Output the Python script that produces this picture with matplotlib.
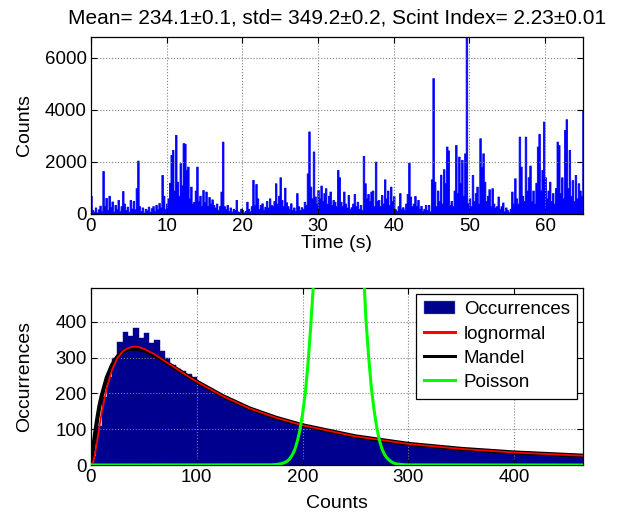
import numpy as np
import matplotlib
matplotlib.use('Agg')
from matplotlib import pyplot as plt

plt.rcParams['font.family'] = ['Liberation Sans', 'DejaVu Sans']

title_txt = u'Mean= 234.1\u00b10.1, std= 349.2\u00b10.2, Scint Index= 2.23\u00b10.01'

# time series, one value every 0.2 s
dt = 0.2
counts = [
    700, 150, 90, 250, 60, 180, 320, 100, 1650, 300,
    620, 150, 700, 260, 480, 90, 350, 200, 540, 120,
    300, 880, 400, 150, 280, 90, 540, 210, 500, 180,
    990, 2050, 300, 120, 250, 60, 200, 140, 280, 90,
    220, 300, 120, 350, 180, 420, 250, 1500, 700, 200,
    400, 600, 1200, 2270, 2460, 900, 3040, 1240, 700, 1950,
    1100, 2720, 2700, 1690, 1820, 600, 1050, 400, 470, 900,
    1820, 500, 700, 300, 920, 450, 860, 300, 650, 400,
    560, 350, 250, 400, 150, 300, 860, 2780, 300, 200,
    350, 120, 250, 90, 200, 150, 540, 100, 80, 200,
    150, 60, 120, 470, 200, 100, 300, 1310, 350, 1150,
    600, 200, 350, 410, 150, 280, 500, 250, 600, 350,
    300, 500, 1180, 400, 700, 1410, 540, 300, 1010, 450,
    300, 200, 410, 150, 250, 120, 800, 300, 150, 260,
    200, 470, 350, 1560, 3170, 1050, 600, 2400, 670, 400,
    920, 600, 1090, 500, 800, 990, 400, 700, 860, 350,
    540, 470, 300, 1690, 1410, 470, 300, 860, 400, 250,
    730, 200, 260, 400, 770, 300, 470, 200, 350, 150,
    2230, 1180, 600, 770, 500, 860, 900, 300, 2010, 500,
    540, 300, 730, 400, 1330, 600, 900, 350, 1050, 500,
    690, 180, 120, 300, 800, 200, 260, 150, 400, 770,
    1970, 670, 300, 400, 690, 300, 540, 200, 310, 120,
    200, 350, 150, 350, 100, 1330, 5220, 1240, 300, 900,
    500, 1510, 400, 1720, 1180, 2590, 2440, 350, 500, 300,
    900, 2650, 800, 2205, 1200, 2080, 700, 2330, 6795, 410,
    600, 300, 1500, 500, 800, 1050, 400, 2910, 1800, 2330,
    1240, 500, 700, 950, 300, 990, 400, 250, 300, 670,
    200, 300, 440, 100, 250, 150, 80, 200, 860, 400,
    1370, 600, 400, 2970, 1820, 700, 500, 2970, 900, 1410,
    1860, 500, 900, 400, 1200, 2590, 3080, 900, 1690, 3550,
    1410, 600, 900, 1240, 500, 800, 400, 1000, 2780, 2650,
    800, 1410, 600, 3230, 3640, 1000, 2460, 700, 1300, 500,
    1500, 600, 1180, 900, 700, 4000,
]

# histogram of the counts, 5-count bins
bin_w = 5
occ = [
    25, 110, 190, 245, 300, 345, 372, 360, 382, 355,
    368, 340, 350, 318, 300, 280, 268, 262, 255, 245,
    230, 220, 212, 204, 197, 190, 183, 175, 168, 161,
    155, 150, 144, 139, 133, 129, 124, 120, 116, 112,
    108, 104, 101, 98, 94, 91, 88, 85, 82, 80,
    77, 75, 72, 70, 68, 66, 64, 62, 60, 58,
    56, 55, 53, 52, 50, 49, 47, 46, 45, 44,
    43, 42, 41, 40, 39, 38, 37, 36, 35, 34,
    34, 33, 32, 31, 31, 30, 29, 29, 28, 27,
    27, 26, 26,
]

# fitted curves
logn_x = [0, 2, 3.5, 5, 7.5, 10, 15, 20, 25, 30, 35, 40, 45, 50, 60, 70, 80,
          90, 100, 125, 150, 175, 200, 250, 300, 350, 400, 465]
logn_y = [0, 7, 26, 51, 98, 144, 217, 267, 299, 318, 327, 331, 330, 325, 310,
          290, 271, 251, 233, 192, 158, 132, 111, 80, 59, 45, 35, 26]

mandel_x = [0, 2, 4, 6, 8, 10, 15, 20, 25, 30, 35, 40, 45, 50, 60, 70, 80,
            90, 100, 125, 150, 175, 200, 250, 300, 350, 400, 465]
mandel_y = [0, 45, 90, 130, 165, 192, 245, 280, 303, 317, 324, 326, 325, 321,
            307, 289, 270, 251, 233, 192, 158, 132, 111, 80, 59, 45, 35, 26]

pois_x = [0, 170, 175, 177.5, 180, 182.5, 185, 187.5, 190, 192.5, 195, 197.5,
          200, 202.5, 205, 207.5, 210, 212.5, 215, 220, 234, 245, 252.5, 255,
          257.5, 260, 262.5, 265, 267.5, 270, 272.5, 275, 277.5, 280, 282.5,
          285, 287.5, 290, 295, 300, 465]
pois_y = [0, 0.5, 1.5, 2.5, 4, 6, 10, 16, 27, 42, 66, 98, 143, 200, 280, 380,
          495, 620, 760, 1110, 1695, 1305, 820, 690, 548, 400, 300, 215, 155,
          106, 70, 45, 29, 19, 12, 7, 4, 2.5, 1, 0.3, 0]

fig = plt.figure(figsize=(6.24, 5.18), dpi=100)

def matlab_axes(ax):
    ax.tick_params(direction='in', top=True, right=True, labelsize=13.5,
                   length=4, width=0.8, pad=3)
    ax.grid(True, linestyle=':', color='0.5', linewidth=0.8)
    for s in ax.spines.values():
        s.set_linewidth(0.9)

# top: time series
ax1 = fig.add_axes([0.1458, 0.5869, 0.7885, 0.3417])
t = np.arange(len(counts)) * dt
ax1.fill_between(t, 0, counts, step='mid', color='#0000ff', lw=0.6)
ax1.set_xlim(0, 65)
ax1.set_ylim(0, 6800)
ax1.set_xticks([0, 10, 20, 30, 40, 50, 60])
ax1.set_yticks([0, 2000, 4000, 6000])
ax1.set_xlabel('Time (s)', fontsize=14, labelpad=0)
ax1.set_ylabel('Counts', fontsize=14)
ax1.yaxis.set_label_coords(-0.118, 0.5)
matlab_axes(ax1)
fig.text(0.54, 0.965, title_txt, ha='center', va='center', fontsize=15)

# bottom: histogram and fits
ax2 = fig.add_axes([0.1458, 0.1023, 0.7885, 0.3417])
edges = np.arange(len(occ)) * bin_w
ax2.bar(edges, occ, width=bin_w, align='edge', color='#00008f',
        edgecolor='#00008f', linewidth=0.3, label='Occurrences')
ax2.plot(mandel_x, mandel_y, color='black', lw=3, label='Mandel', zorder=3)
ax2.plot(logn_x, logn_y, color='red', lw=1.3, label='lognormal', zorder=4)
ax2.plot(pois_x, pois_y, color='#00ff00', lw=2.2, label='Poisson', zorder=5)
ax2.set_xlim(0, 465)
ax2.set_ylim(0, 495)
ax2.set_xticks([0, 100, 200, 300, 400])
ax2.set_yticks([0, 100, 200, 300, 400])
ax2.set_xlabel('Counts', fontsize=14, labelpad=6)
ax2.set_ylabel('Occurrences', fontsize=14)
ax2.yaxis.set_label_coords(-0.118, 0.5)
matlab_axes(ax2)

h, l = ax2.get_legend_handles_labels()
order = [l.index(k) for k in ['Occurrences', 'lognormal', 'Mandel', 'Poisson']]
leg = ax2.legend([h[i] for i in order], [l[i] for i in order], loc='upper right',
                 fontsize=13.5, fancybox=False, framealpha=1, edgecolor='black',
                 borderaxespad=0.3, handlelength=1.7, labelspacing=0.38,
                 borderpad=0.4, handletextpad=0.45)
leg.get_frame().set_linewidth(0.9)
for hl in leg.get_lines():
    hl.set_linewidth(2.2)
leg.get_patches()[0].set_edgecolor('#8080c0')

plt.savefig('out.png', dpi=100)
